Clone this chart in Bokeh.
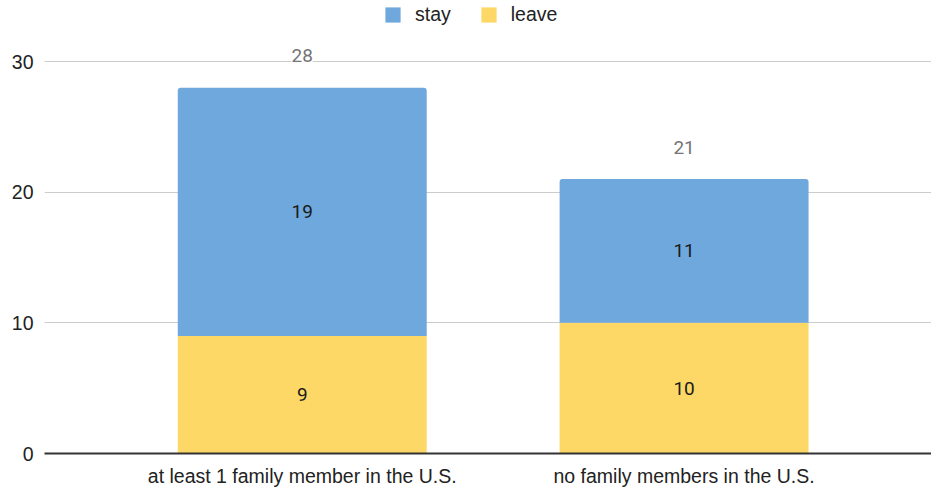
from bokeh.plotting import figure
from bokeh.models import ColumnDataSource, Range1d, FixedTicker, LabelSet, Legend, LegendItem
from bokeh.core.properties import value
from bokeh.embed import file_html
from bokeh.resources import INLINE

categories = ["at least 1 family member in the U.S.", "no family members in the U.S."]
stay = [19, 11]
leave = [9, 10]
y_ticks = [0, 10, 20, 30]

xs = list(range(len(categories)))
totals = [s + l for s, l in zip(stay, leave)]
src = ColumnDataSource(dict(
    x=xs, stay=stay, leave=leave, total=totals,
    leave_mid=[l / 2 for l in leave],
    stay_mid=[l + s / 2 for s, l in zip(stay, leave)],
    stay_txt=[str(v) for v in stay], leave_txt=[str(v) for v in leave],
    total_txt=[str(v) for v in totals],
))

FONT = "Liberation Sans"
p = figure(width=931, height=489, output_backend="svg", toolbar_location=None,
           x_range=Range1d(-0.675, 1.648), y_range=Range1d(0, 34.67),
           min_border_left=44, min_border_right=0, min_border_top=0, min_border_bottom=36)
p.outline_line_color = None

rs = p.vbar_stack(["leave", "stay"], x="x", width=0.652, source=src,
                  color=["#FDD866", "#6FA8DC"], line_color=None)
try:
    rs[1].glyph.border_radius = (3, 3, 0, 0)
except Exception:
    pass

# grid
p.xgrid.grid_line_color = None
p.ygrid.grid_line_color = "#cccccc"
p.ygrid.grid_line_width = 1
p.yaxis.ticker = FixedTicker(ticks=y_ticks)

# axes
for ax in (p.xaxis[0], p.yaxis[0]):
    ax.major_tick_line_color = None
    ax.minor_tick_line_color = None
    ax.major_tick_out = 0
    ax.major_tick_in = 0
    ax.minor_tick_out = 0
    ax.minor_tick_in = 0
    ax.major_label_text_font = FONT
    ax.major_label_text_font_size = "19.5px"
    ax.major_label_text_color = "#222222"

p.yaxis.axis_line_color = None
p.yaxis.major_label_standoff = 11

p.xaxis.ticker = FixedTicker(ticks=xs)
p.xaxis.major_label_overrides = {i: c for i, c in zip(xs, categories)}
p.xaxis.axis_line_color = "#333333"
p.xaxis.axis_line_width = 2
p.xaxis.major_label_standoff = 11

# inner labels
for ycol, tcol in (("leave_mid", "leave_txt"), ("stay_mid", "stay_txt")):
    p.add_layout(LabelSet(x="x", y=ycol, text=tcol, source=src, text_align="center",
                          text_baseline="middle", text_font=value("Roboto"),
                          text_font_size=value("19px"), text_color="#1a1a1a"))
# totals
p.add_layout(LabelSet(x="x", y="total", text="total_txt", source=src, text_align="center",
                      text_baseline="middle", y_offset=32, text_font=value("Roboto"),
                      text_font_size=value("19px"), text_color="#757575",
                      background_fill_color="white"))

legend = Legend(items=[LegendItem(label="stay", renderers=[rs[1]]),
                       LegendItem(label="leave", renderers=[rs[0]])],
                orientation="horizontal", location=(339, 427),
                glyph_width=19, glyph_height=19, label_height=19,
                label_standoff=13, spacing=28, padding=0, margin=0,
                border_line_color=None, background_fill_alpha=0,
                label_text_font=FONT, label_text_font_size="19.5px",
                label_text_color="#222222")
p.add_layout(legend, "center")

open("out.html", "w").write(file_html(p, INLINE))
